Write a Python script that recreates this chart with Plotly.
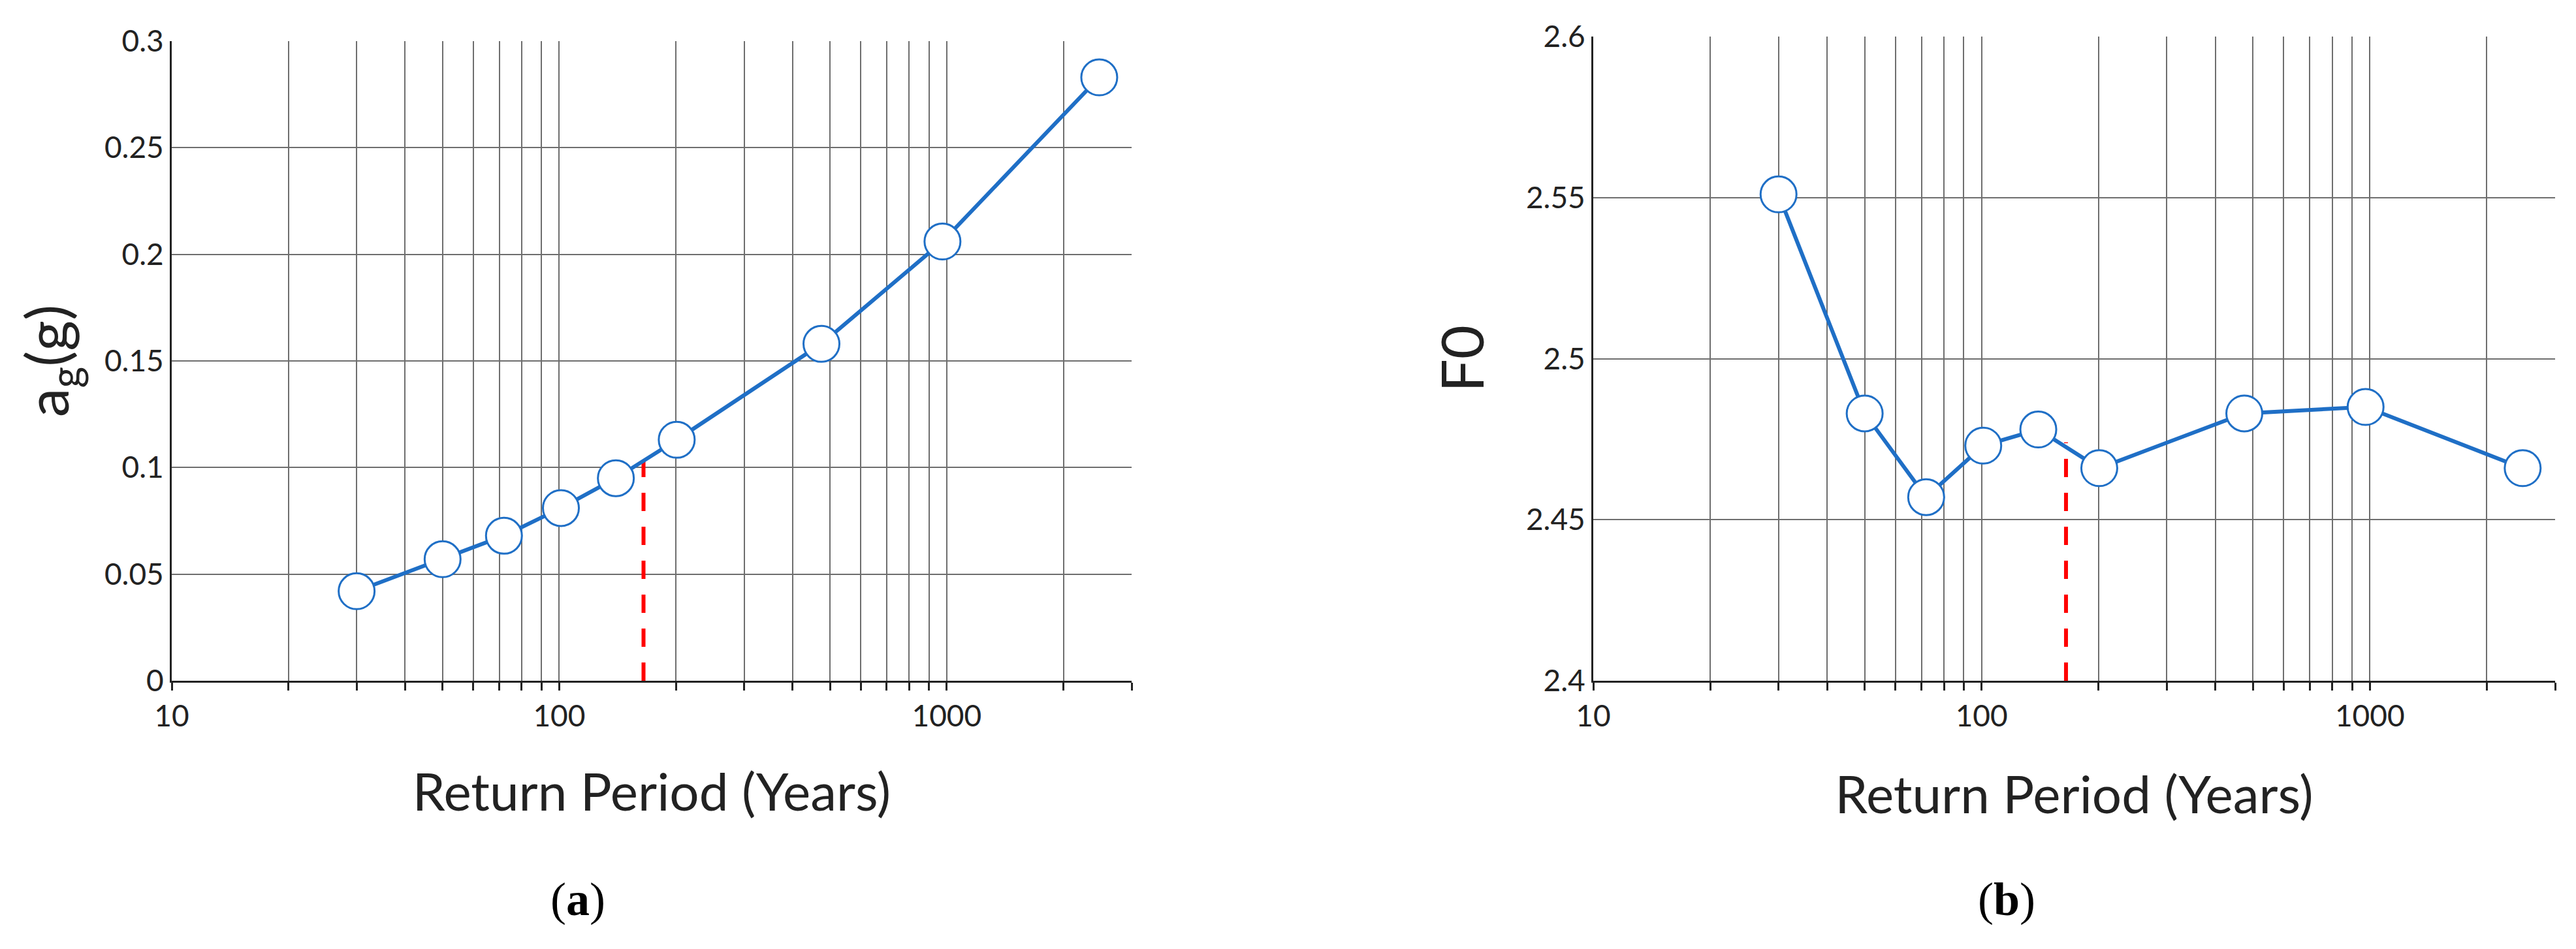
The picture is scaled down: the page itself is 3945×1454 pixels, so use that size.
import plotly.graph_objects as go
from plotly.subplots import make_subplots

# return periods (years)
return_period = [30, 50, 72, 101, 140, 201, 475, 975, 2475]
ag_values = [0.042, 0.057, 0.068, 0.081, 0.095, 0.113, 0.158, 0.206, 0.283]
f0_values = [2.551, 2.483, 2.457, 2.473, 2.478, 2.466, 2.483, 2.485, 2.466]

# reference return period marker
tr_ref = [165, 165]
ag_ref = [0, 0.103]
f0_ref = [2.4, 2.474]

major_ticks = [10, 100, 1000]
major_labels = ["10", "100", "1000"]
minor_ticks = [20, 30, 40, 50, 60, 70, 80, 90,
               200, 300, 400, 500, 600, 700, 800, 900,
               2000, 3000]

BLUE = "#1f6fc6"
GRID = "#6e6e6e"
INK = "#222222"
FONT = "Lato, 'Open Sans', sans-serif"
OFF = 8  # default body margin of the page
W, H = 3945 - 2 * OFF, 1454 - 2 * OFF

# plot area in page pixels (left, right, top, bottom), moved into figure coords
L, R, T, B = 263 - OFF, 3913 - OFF, 56 - OFF, 1043 - OFF
pw, ph = R - L, B - T

fig = make_subplots(rows=1, cols=2)

for col, yvals, ref_y in [(1, ag_values, ag_ref), (2, f0_values, f0_ref)]:
    fig.add_trace(go.Scatter(
        x=tr_ref, y=ref_y, mode="lines",
        line=dict(color="#ff0000", width=6, dash="28px,24px"),
        showlegend=False,
    ), row=1, col=col)
    fig.add_trace(go.Scatter(
        x=return_period, y=yvals, mode="lines+markers",
        line=dict(color=BLUE, width=6),
        marker=dict(size=55, color="white", line=dict(color=BLUE, width=3)),
        showlegend=False,
    ), row=1, col=col)

xaxis_common = dict(
    type="log",
    range=[1, 3.4771],
    tickvals=major_ticks,
    ticktext=major_labels,
    ticks="outside",
    ticklen=12,
    tickwidth=3,
    tickcolor=INK,
    showgrid=True,
    gridcolor=GRID,
    gridwidth=2,
    minor=dict(tickvals=minor_ticks, ticks="outside", ticklen=12, tickwidth=3,
               tickcolor=INK, showgrid=True, gridcolor=GRID, gridwidth=2),
    showline=True,
    linecolor=INK,
    linewidth=3,
    zeroline=False,
    automargin=False,
    tickfont=dict(family=FONT, size=46, color=INK),
)
yaxis_common = dict(
    showgrid=True,
    gridcolor=GRID,
    gridwidth=2,
    showline=True,
    linecolor=INK,
    linewidth=3,
    zeroline=False,
    automargin=False,
    ticks="",
    tickfont=dict(family=FONT, size=46, color=INK),
)
title_font = dict(family=FONT, size=80, color=INK)

fig.update_layout(
    width=W,
    height=H,
    margin=dict(l=L, r=W - R, t=T, b=H - B),
    paper_bgcolor="white",
    plot_bgcolor="white",
    xaxis=dict(xaxis_common, domain=[0, (1733 - OFF - L) / pw],
               title=dict(text="Return Period (Years)", font=title_font, standoff=64)),
    xaxis2=dict(xaxis_common, domain=[(2440 - OFF - L) / pw, 1],
                title=dict(text="Return Period (Years)", font=title_font, standoff=68)),
    yaxis=dict(yaxis_common, domain=[0, (B - (63 - OFF)) / ph], range=[0, 0.3], dtick=0.05,
               title=dict(text="a<sub>g</sub>(g)",
                          font=dict(family=FONT, size=90, color=INK),
                          standoff=25)),
    yaxis2=dict(yaxis_common, domain=[0, 1], range=[2.4, 2.6], dtick=0.05,
                title=dict(text="F0",
                           font=dict(family=FONT, size=90, color=INK),
                           standoff=35)),
)

# panel letters, placed in pixel terms relative to the plot area
for xpx, letter in [(885, "a"), (3073, "b")]:
    fig.add_annotation(
        x=(xpx - OFF - L) / pw, y=(B - (1378 - OFF)) / ph,
        xref="paper", yref="paper", xanchor="center", yanchor="middle",
        text="(<b>%s</b>)" % letter, showarrow=False,
        font=dict(family="Liberation Serif, serif", size=72, color="black"),
    )

fig.write_html("out.html")
